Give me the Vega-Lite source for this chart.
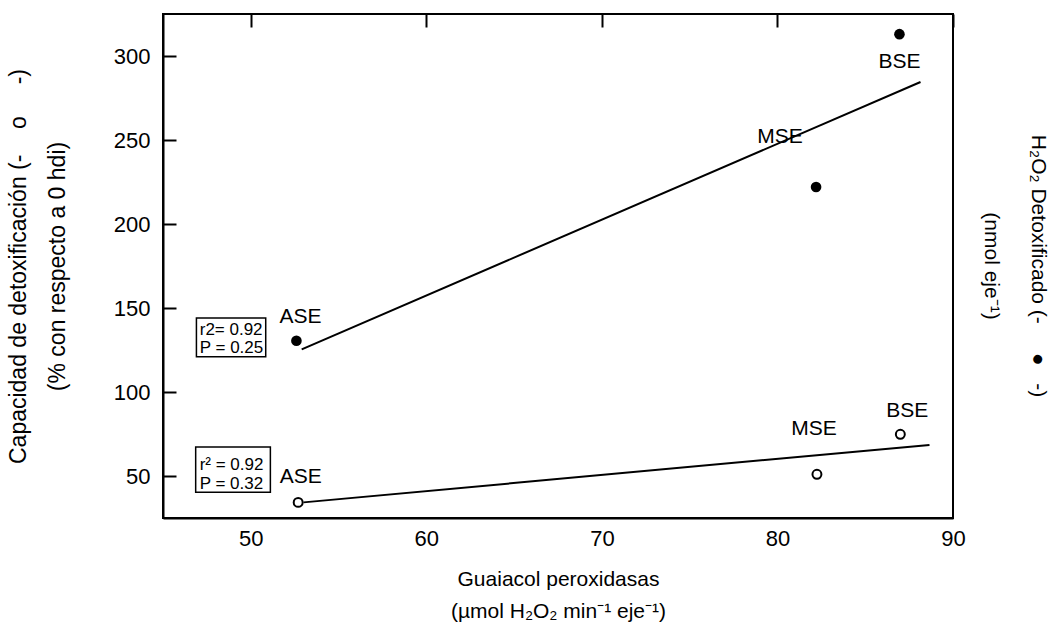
{
  "$schema": "https://vega.github.io/schema/vega-lite/v6.json",
  "autosize": {"type": "none"},
  "width": 790,
  "height": 504,
  "padding": {"left": 163, "top": 14, "right": 99, "bottom": 116},
  "background": "white",
  "title": {
    "text": ["H₂O₂ Detoxificado (-\u00a0\u00a0\u00a0\u00a0\u00a0●\u00a0\u00a0\u00a0-)", "(nmol eje⁻¹)"],
    "orient": "right", "anchor": "middle", "angle": 90, "fontSize": 21, "fontWeight": "normal",
    "font": "Liberation Sans", "color": "black", "lineHeight": 47, "offset": 16
  },
  "datasets": {
    "puntos": [
      {"serie": "H2O2", "grupo": "ASE", "guaiacol": 52.6, "valor": 130.5},
      {"serie": "H2O2", "grupo": "MSE", "guaiacol": 82.2, "valor": 222},
      {"serie": "H2O2", "grupo": "BSE", "guaiacol": 86.95, "valor": 313},
      {"serie": "capacidad", "grupo": "ASE", "guaiacol": 52.7, "valor": 34.3},
      {"serie": "capacidad", "grupo": "MSE", "guaiacol": 82.25, "valor": 51},
      {"serie": "capacidad", "grupo": "BSE", "guaiacol": 87.0, "valor": 74.8}
    ],
    "rectas": [
      {"serie": "H2O2", "guaiacol": 52.9, "valor": 125.4},
      {"serie": "H2O2", "guaiacol": 88.15, "valor": 284.5},
      {"serie": "capacidad", "guaiacol": 53.0, "valor": 34.3},
      {"serie": "capacidad", "guaiacol": 88.66, "valor": 68.5}
    ]
  },
  "encoding": {
    "x": {
      "field": "guaiacol", "type": "quantitative",
      "scale": {"domain": [45, 90], "nice": false, "zero": false},
      "axis": {
        "values": [50, 60, 70, 80, 90], "format": "d",
        "ticks": false, "grid": true, "gridColor": "black", "gridWidth": 2, "gridOpacity": 1, "gridDash": [13, 3000], "gridCap": "butt",
        "labelFontSize": 22, "labelPadding": 10, "labelFlush": false,
        "title": ["Guaiacol peroxidasas", "(µmol H₂O₂ min⁻¹ eje⁻¹)"],
        "titleFontSize": 21, "titleLineHeight": 32, "titlePadding": 19
      }
    },
    "y": {
      "field": "valor", "type": "quantitative",
      "scale": {"domain": [25, 325], "nice": false, "zero": false},
      "axis": {
        "values": [50, 100, 150, 200, 250, 300],
        "ticks": false, "grid": true, "gridColor": "black", "gridWidth": 2, "gridOpacity": 1, "gridDash": [13, 3000], "gridCap": "butt",
        "labelFontSize": 22, "labelPadding": 13,
        "title": ["Capacidad de detoxificación (-\u00a0\u00a0\u00a0\u00a0o\u00a0\u00a0\u00a0\u00a0\u00a0-)", "(% con respecto a 0 hdi)"],
        "titleFontSize": 23, "titleLineHeight": 39, "titlePadding": 44
      }
    }
  },
  "layer": [
    {
      "data": {"name": "rectas"},
      "mark": {"type": "line", "color": "black", "strokeWidth": 2},
      "encoding": {"detail": {"field": "serie"}}
    },
    {
      "data": {"name": "puntos"},
      "transform": [{"filter": "datum.serie === 'H2O2'"}],
      "mark": {"type": "point", "shape": "circle", "filled": true, "color": "black", "size": 113, "opacity": 1}
    },
    {
      "data": {"name": "puntos"},
      "transform": [{"filter": "datum.serie === 'capacidad'"}],
      "mark": {"type": "point", "shape": "circle", "filled": true, "fill": "white", "stroke": "black", "strokeWidth": 2, "size": 80, "opacity": 1}
    },
    {
      "data": {"name": "puntos"},
      "transform": [{"filter": "datum.serie === 'H2O2' && datum.grupo === 'ASE'"}],
      "mark": {"type": "text", "fontSize": 21, "align": "center", "baseline": "middle", "dx": 4, "dy": -24, "color": "black"},
      "encoding": {"text": {"field": "grupo"}}
    },
    {
      "data": {"name": "puntos"},
      "transform": [{"filter": "datum.serie === 'H2O2' && datum.grupo === 'MSE'"}],
      "mark": {"type": "text", "fontSize": 21, "align": "center", "baseline": "middle", "dx": -36, "dy": -50, "color": "black"},
      "encoding": {"text": {"field": "grupo"}}
    },
    {
      "data": {"name": "puntos"},
      "transform": [{"filter": "datum.serie === 'H2O2' && datum.grupo === 'BSE'"}],
      "mark": {"type": "text", "fontSize": 21, "align": "center", "baseline": "middle", "dx": 0, "dy": 28, "color": "black"},
      "encoding": {"text": {"field": "grupo"}}
    },
    {
      "data": {"name": "puntos"},
      "transform": [{"filter": "datum.serie === 'capacidad' && datum.grupo === 'ASE'"}],
      "mark": {"type": "text", "fontSize": 21, "align": "center", "baseline": "middle", "dx": 2.5, "dy": -25, "color": "black"},
      "encoding": {"text": {"field": "grupo"}}
    },
    {
      "data": {"name": "puntos"},
      "transform": [{"filter": "datum.serie === 'capacidad' && datum.grupo === 'MSE'"}],
      "mark": {"type": "text", "fontSize": 21, "align": "center", "baseline": "middle", "dx": -3, "dy": -45, "color": "black"},
      "encoding": {"text": {"field": "grupo"}}
    },
    {
      "data": {"name": "puntos"},
      "transform": [{"filter": "datum.serie === 'capacidad' && datum.grupo === 'BSE'"}],
      "mark": {"type": "text", "fontSize": 21, "align": "center", "baseline": "middle", "dx": 7, "dy": -23, "color": "black"},
      "encoding": {"text": {"field": "grupo"}}
    },
    {
      "data": {"name": "puntos"},
      "transform": [{"filter": "datum.serie === 'H2O2' && datum.grupo === 'ASE'"}],
      "mark": {"type": "rect", "fill": "white", "stroke": "black", "strokeWidth": 1.5, "xOffset": -100, "x2Offset": -30.7, "yOffset": -22.8, "y2Offset": 15.9},
      "encoding": {"x2": {"field": "guaiacol"}, "y2": {"field": "valor"}}
    },
    {
      "data": {"name": "puntos"},
      "transform": [{"filter": "datum.serie === 'capacidad' && datum.grupo === 'ASE'"}],
      "mark": {"type": "rect", "fill": "white", "stroke": "black", "strokeWidth": 1.5, "xOffset": -102.5, "x2Offset": -27.8, "yOffset": -55.4, "y2Offset": -10.1},
      "encoding": {"x2": {"field": "guaiacol"}, "y2": {"field": "valor"}}
    },
    {
      "data": {"name": "puntos"},
      "transform": [{"filter": "datum.serie === 'H2O2' && datum.grupo === 'ASE'"}],
      "mark": {"type": "text", "fontSize": 17, "lineHeight": 18, "align": "left", "baseline": "middle", "dx": -96.7, "dy": -11, "color": "black", "text": ["r2= 0.92", "P = 0.25"]}
    },
    {
      "data": {"name": "puntos"},
      "transform": [{"filter": "datum.serie === 'capacidad' && datum.grupo === 'ASE'"}],
      "mark": {"type": "text", "fontSize": 17, "lineHeight": 19, "align": "left", "baseline": "middle", "dx": -98.5, "dy": -37, "color": "black", "text": ["r² = 0.92", "P = 0.32"]}
    }
  ],
  "config": {
    "font": "Liberation Sans",
    "view": {"stroke": "black", "strokeWidth": 2},
    "axis": {
      "domainColor": "black", "domainWidth": 2,
      "labelColor": "black", "titleColor": "black", "labelFont": "Liberation Sans",
      "titleFont": "Liberation Sans", "titleFontWeight": "normal"
    }
  }
}
